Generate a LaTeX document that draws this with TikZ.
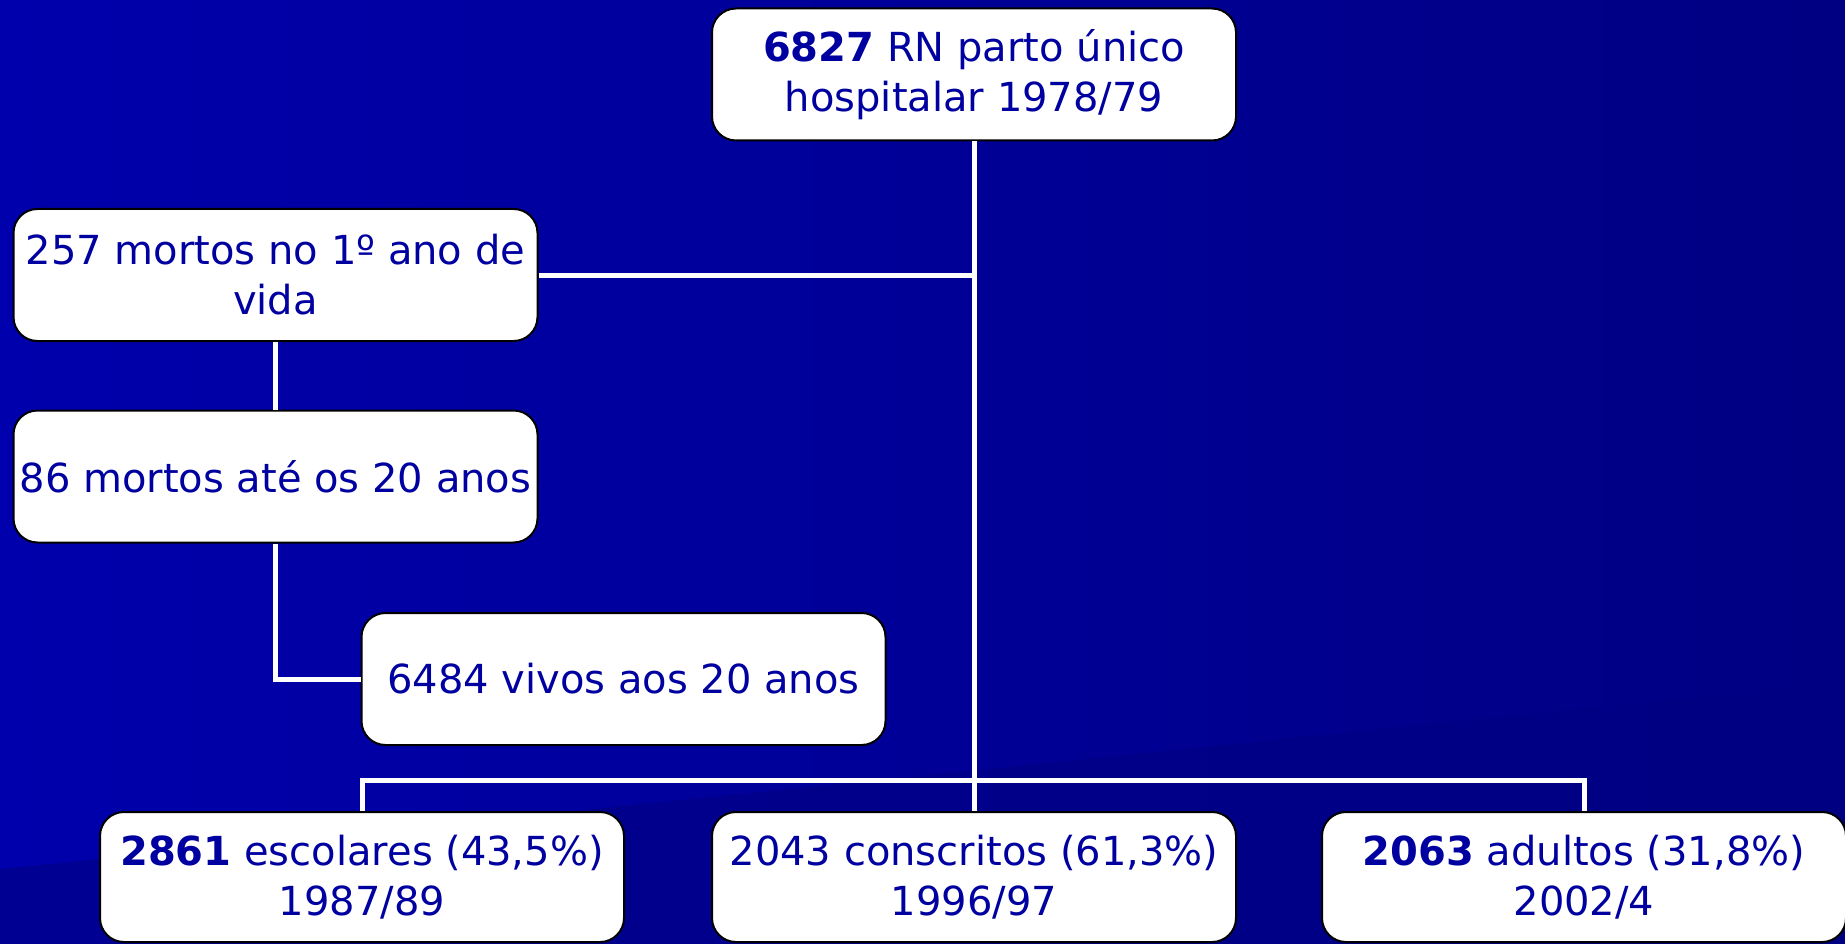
\documentclass[tikz,border=0pt]{standalone}
\usepackage{fontspec}
\setmainfont{DejaVu Sans}
\definecolor{bgA}{RGB}{0,0,172}
\definecolor{bgB}{RGB}{0,0,130}
\definecolor{txt}{RGB}{0,0,160}
\begin{document}
\begin{tikzpicture}[x=1pt,y=-1pt,
  box/.style={draw=black, line width=2pt, fill=white, rounded corners=24pt,
    minimum width=524pt, minimum height=132pt, align=center, inner sep=0pt,
    text=txt, font=\fontsize{40}{50}\selectfont},
  link/.style={draw=white, line width=5pt}]
\useasboundingbox (0,0) rectangle (1845,944);
\shade[left color=bgA, right color=bgB] (0,0) rectangle (1845,944);
\fill[bgB, opacity=0.6] (0,869) -- (1845,682) -- (1845,944) -- (0,944) -- cycle;
\node[box] (top) at (974,74.5) {\textbf{6827} RN parto único\\hospitalar 1978/79};
\node[box] (m1) at (275.5,275) {257 mortos no 1º ano de\\vida};
\node[box] (m2) at (275.5,476.5) {86 mortos até os 20 anos};
\node[box] (viv) at (623.5,679) {6484 vivos aos 20 anos};
\node[box, minimum height=130pt] (b1) at (362,877) {\textbf{2861} escolares (43,5\%)\\1987/89};
\node[box, minimum height=130pt] (b2) at (974,877) {2043 conscritos (61,3\%)\\1996/97};
\node[box, minimum height=130pt] (b3) at (1584,877) {\textbf{2063} adultos (31,8\%)\\2002/4};
\coordinate (bar) at (974,780);
\draw[link] (top.south) -- (b2.north);
\draw[link] (m1.east) -- (m1.east -| top.south);
\draw[link] (m1.south) -- (m2.north);
\draw[link] (m2.south) |- (viv.west);
\draw[link] (b1.north) |- (bar) -| (b3.north);
\end{tikzpicture}
\end{document}
